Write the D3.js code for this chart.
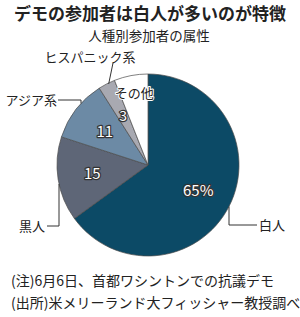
<!DOCTYPE html>
<html><head><meta charset="utf-8">
<script src="https://cdn.jsdelivr.net/npm/d3@7"></script>
<style>
html,body{margin:0;padding:0;background:#fff;}
svg{display:block;font-family:"Noto Sans CJK JP","Noto Sans",sans-serif;}
</style></head><body>
<svg id="chart" width="300" height="317"></svg>
<script>
const categories = ["白人", "黒人", "アジア系", "ヒスパニック系", "その他"];
const values = [65, 15, 11, 3, 6];
const innerLabels = ["65%", "15", "11", "3", "その他"];
const colors = ["#0c4a66", "#5e6677", "#6c8aa5", "#a8a9b1", "#ffffff"];
const title = "デモの参加者は白人が多いのが特徴";
const subtitle = "人種別参加者の属性";
const notes = ["(注)6月6日、首都ワシントンでの抗議デモ", "(出所)米メリーランド大フィッシャー教授調べ"];

const svg = d3.select("#chart");
const cx = 148, cy = 165, R = 91;

svg.append("text").attr("x", 150).attr("y", 20).attr("text-anchor", "middle")
  .attr("font-size", 17).attr("font-weight", "bold").attr("fill", "#222").text(title);
svg.append("text").attr("x", 149).attr("y", 40.5).attr("text-anchor", "middle")
  .attr("font-size", 13.5).attr("fill", "#222").text(subtitle);

const data = categories.map((c, i) => ({cat: c, value: values[i], label: innerLabels[i], color: colors[i]}));
const pie = d3.pie().value(d => d.value).sort(null);
const arcs = pie(data);
const arc = d3.arc().innerRadius(0).outerRadius(R);

const g = svg.append("g").attr("transform", `translate(${cx},${cy})`);
g.selectAll("path").data(arcs).join("path")
  .attr("d", arc).attr("fill", d => d.data.color)
  .attr("stroke", "#4a4a4a").attr("stroke-width", 0.7);

const labelR = [0.62, 0.62, 0.6, 0.6, 0.8];
const fontSizes = [15, 15, 15, 14, 13];
arcs.forEach((a, i) => {
  const ang = (a.startAngle + a.endAngle) / 2;
  const r = R * labelR[i];
  const x = Math.sin(ang) * r, y = -Math.cos(ang) * r;
  const isWhite = i === 4;
  g.append("text").attr("x", x).attr("y", y).attr("dy", "0.35em")
    .attr("text-anchor", "middle").attr("font-size", fontSizes[i])
    .attr("fill", isWhite ? "#222" : "#fff")
    .attr("stroke", isWhite ? "#fff" : "#333").attr("stroke-width", isWhite ? 2 : 2.4)
    .attr("paint-order", "stroke").attr("stroke-linejoin", "round")
    .text(a.data.label);
});

function pt(angleFrac, r) {
  const ang = angleFrac * 2 * Math.PI;
  return [cx + Math.sin(ang) * r, cy - Math.cos(ang) * r];
}
const total = d3.sum(values);
const cum = d3.cumsum(values);
const line = (pts) => svg.append("path").attr("d", d3.line()(pts))
  .attr("fill", "none").attr("stroke", "#333").attr("stroke-width", 1);

{
  const x = 229, y0 = cy + Math.sqrt(R*R - (x-cx)*(x-cx));
  line([[x, y0], [x, 225], [257, 225]]);
  svg.append("text").attr("x", 259).attr("y", 225).attr("dy", "0.35em").attr("font-size", 13).attr("fill", "#222").text(categories[0]);
}
{
  const x = 59, y0 = cy + Math.sqrt(R*R - (x-cx)*(x-cx));
  line([[x, y0], [x, 226], [47, 226]]);
  svg.append("text").attr("x", 45).attr("y", 226).attr("dy", "0.35em").attr("text-anchor", "end").attr("font-size", 13).attr("fill", "#222").text(categories[1]);
}
{
  const x = 81, y0 = cy - Math.sqrt(R*R - (x-cx)*(x-cx));
  line([[x, y0], [x, 100], [58, 100]]);
  svg.append("text").attr("x", 57).attr("y", 100).attr("dy", "0.35em").attr("text-anchor", "end").attr("font-size", 13).attr("fill", "#222").text(categories[2]);
}
{
  const p = pt((cum[2] + values[3] * 0.5) / total, R);
  line([[p[0] + 2, p[1]], [113, 63]]);
  svg.append("text").attr("x", 90).attr("y", 57).attr("dy", "0.35em").attr("text-anchor", "middle").attr("font-size", 13).attr("fill", "#222").text(categories[3]);
}

notes.forEach((t, i) => {
  svg.append("text").attr("x", 11).attr("y", 281 + i * 22).attr("dy", "0.35em")
    .attr("font-size", 14).attr("fill", "#222").text(t);
});
</script>
</body></html>
